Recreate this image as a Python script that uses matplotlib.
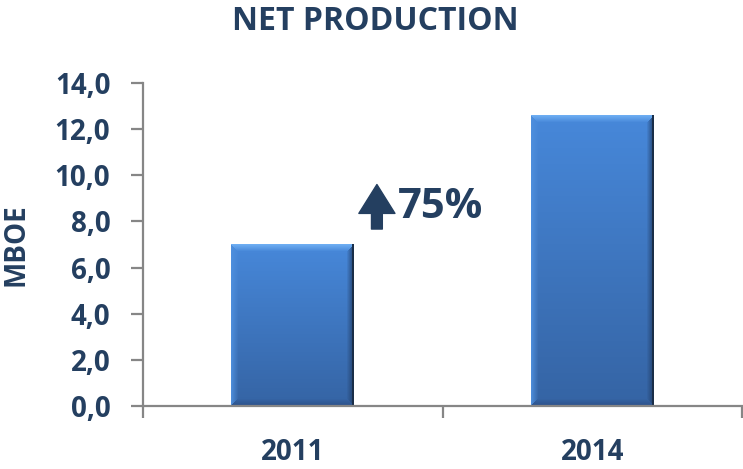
import numpy as np
import matplotlib
matplotlib.use('Agg')
import matplotlib.pyplot as plt
from matplotlib.ticker import FuncFormatter, FixedLocator
from matplotlib.colors import to_rgb
from matplotlib.patches import ArrowStyle

plt.rcParams['font.family'] = ['Open Sans', 'DejaVu Sans']

# data
years = ['2011', '2014']
production = [7.0, 12.6]
growth_label = '75%'
yticks = [0, 2, 4, 6, 8, 10, 12, 14]

navy = '#243F60'
axis_gray = '#868686'

fig = plt.figure(figsize=(7.43, 4.69), dpi=100)
ax = fig.add_axes([143/743, 63/469, 599/743, 323/469])

x = np.arange(len(years))
bars = ax.bar(x, production, width=0.41, facecolor='none', edgecolor='none', zorder=3)
ax.set_xlim(-0.5, len(years) - 0.5)
ax.set_ylim(0, 14)

# gradient + bevel fill for each bar, sized in pixels
def bevel_image(wpx, hpx, bev=7):
    top_c = np.array(to_rgb('#4788DA'))
    bot_c = np.array(to_rgb('#3564A4'))
    t = np.linspace(0, 1, hpx)[:, None, None]
    img = top_c * (1 - t) + bot_c * t
    img = np.repeat(img, wpx, axis=1)
    ii, jj = np.mgrid[0:hpx, 0:wpx]
    d = np.stack([ii, hpx - 1 - ii, jj, wpx - 1 - jj])
    which = d.argmin(axis=0)
    dmin = d.min(axis=0)
    band = dmin < bev
    edge_cols = [np.array(to_rgb('#72B2F5')), np.array(to_rgb('#2C5089')),
                 np.array(to_rgb('#4F90DE')), np.array(to_rgb('#23406A'))]
    for k, col in enumerate(edge_cols):
        m = band & (which == k)
        f = (1 - dmin[m] / bev)[:, None] * 0.9
        img[m] = img[m] * (1 - f) + col * f
    # dark outline on right side
    img[:, -2:] = np.array(to_rgb('#1A2E48'))
    return img

for rect in bars:
    x0, w, h = rect.get_x(), rect.get_width(), rect.get_height()
    p0 = ax.transData.transform((x0, 0))
    p1 = ax.transData.transform((x0 + w, h))
    wpx, hpx = int(round(p1[0] - p0[0])), int(round(p1[1] - p0[1]))
    img = bevel_image(wpx, hpx)
    ax.imshow(img, extent=[x0, x0 + w, 0, h], aspect='auto', zorder=2,
              interpolation='bilinear')
ax.set_xlim(-0.5, len(years) - 0.5)
ax.set_ylim(0, 14)

# axes styling
for s in ['top', 'right']:
    ax.spines[s].set_visible(False)
for s in ['left', 'bottom']:
    ax.spines[s].set_color(axis_gray)
    ax.spines[s].set_linewidth(1.6)
ax.spines['bottom'].set_zorder(4)

ax.yaxis.set_major_locator(FixedLocator(yticks))
ax.yaxis.set_major_formatter(FuncFormatter(lambda v, p: f'{v:.1f}'.replace('.', ',')))
ax.tick_params(axis='y', direction='out', length=8.5, width=1.6, color=axis_gray,
               pad=15, labelsize=20, labelcolor=navy)
for lab in ax.get_yticklabels():
    lab.set_fontweight('bold')

ax.set_xticks(x)
ax.set_xticklabels(years, fontsize=20, fontweight='bold', color=navy)
ax.tick_params(axis='x', which='major', length=0, pad=23)
ax.set_xticks(np.arange(len(years) + 1) - 0.5, minor=True)
ax.tick_params(axis='x', which='minor', direction='out', length=8.5, width=1.6,
               color=axis_gray)

ax.set_ylabel('MBOE', fontsize=20, fontweight='bold', color=navy)
ax.yaxis.set_label_coords(-0.188, 0.5)

fig.text(375/743, 1 - 21/469, 'NET PRODUCTION', ha='center', va='center',
         fontsize=23, fontweight='bold', color=navy)

# growth annotation
ax.annotate('', xy=(0.281, 9.6), xytext=(0.281, 7.67),
            arrowprops=dict(arrowstyle=ArrowStyle.Simple(head_length=0.8, head_width=1.0,
                                                         tail_width=0.3),
                            mutation_scale=26, color=navy, shrinkA=0, shrinkB=0))
ax.text(0.352, 8.6, growth_label, ha='left', va='center', fontsize=30,
        fontweight='bold', color=navy)

fig.savefig('out.png', dpi=100)
